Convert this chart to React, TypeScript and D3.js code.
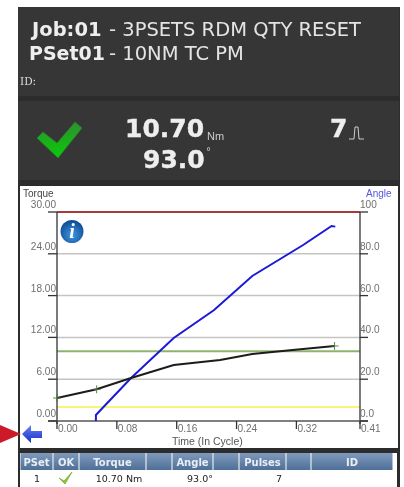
import React from "react";
import * as d3 from "d3";

const torqueTicks = [0, 6, 12, 18, 24, 30];
const angleTickLabels = ["0.0", "20.0", "40.0", "60.0", "80.0", "100"];
const angleTicks = [0, 20, 40, 60, 80, 100];
const timeTicks = [0, 0.08, 0.16, 0.24, 0.32, 0.405];
const timeLabels = ["0.00", "0.08", "0.16", "0.24", "0.32", "0.41"];
const torqueT = [0, 0.053, 0.099, 0.156, 0.218, 0.261, 0.315, 0.371];
const torqueV = [3.3, 4.55, 6.17, 8.04, 8.76, 9.62, 10.19, 10.77];
const angleT = [0.052, 0.052, 0.099, 0.156, 0.21, 0.261, 0.329, 0.367, 0.372];
const angleV = [0, 2.9, 20.6, 39.7, 53.1, 69.4, 84.2, 93.3, 93.0];
const markerT = [0, 0.053, 0.371];
const markerV = [3.3, 4.55, 10.77];
const limitHigh = 30;
const limitTarget = 10;
const limitLow = 2;
const tableHead = ["PSet", "OK", "Torque", "", "Angle", "", "Pulses", "", "ID"];
const tableCuts = [20, 53, 79, 146, 172, 213, 239, 286, 311, 393];
const rowValues = ["1", "10.70 Nm", "93.0°", "7"];

const sans = "'DejaVu Sans', Verdana, sans-serif";
const arial = "'Liberation Sans', Arial, sans-serif";

// narrow tick text: width follows the digits and the point in the string
const tickWidth = (s: string) => s.replace(".", "").length * 5.6 + (s.includes(".") ? 2.8 : 0);

export default function App() {
  const x = d3.scaleLinear().domain([0, 0.405]).range([57, 360]);
  const yT = d3.scaleLinear().domain([0, 30]).range([421, 212]);
  const yA = d3.scaleLinear().domain([0, 100]).range([421, 212]);
  const torquePath = d3.line<number>().x((t) => x(t)).y((_, i) => yT(torqueV[i]))(torqueT)!;
  const anglePath = d3.line<number>().x((t) => x(t)).y((_, i) => yA(angleV[i]))(angleT)!;
  const grey = "#6f6f6f";
  return (
    <svg width={404} height={487} style={{ position: "absolute", left: 0, top: 0, filter: "blur(0.4px)" }}>
      <defs>
        <linearGradient id="chk" x1="0" y1="0" x2="0" y2="1">
          <stop offset="0" stopColor="#2f8f2f" />
          <stop offset="1" stopColor="#08cc08" />
        </linearGradient>
        <radialGradient id="inf" cx="0.5" cy="0.65" r="0.6">
          <stop offset="0" stopColor="#3f96e0" />
          <stop offset="1" stopColor="#0f4f97" />
        </radialGradient>
        <linearGradient id="hdr" x1="0" y1="0" x2="0" y2="1">
          <stop offset="0" stopColor="#7f9abc" />
          <stop offset="1" stopColor="#4f6f98" />
        </linearGradient>
        <linearGradient id="arr" x1="0" y1="0" x2="0" y2="1">
          <stop offset="0" stopColor="#6f80f0" />
          <stop offset="1" stopColor="#1030c8" />
        </linearGradient>
      </defs>
      <rect width={404} height={487} fill="#fff" />
      <rect x={18} y={7} width={382} height={480} fill="#2c2c2c" />
      <rect x={18} y={7} width={381} height={89} fill="#363636" />
      <rect x={18} y={101} width={381} height={79} fill="#363636" />
      <text x={32} y={36} fontFamily={sans} fontSize={19.5} fontWeight="bold" fill="#eee">Job:01</text>
      <text x={109} y={36} fontFamily={sans} fontSize={19.5} fill="#e4e4e4">- 3PSETS RDM QTY RESET</text>
      <text x={29} y={59.5} fontFamily={sans} fontSize={19} fontWeight="bold" fill="#eee">PSet01</text>
      <text x={109} y={59.5} fontFamily={sans} fontSize={19.5} fill="#e4e4e4">- 10NM TC PM</text>
      <text x={20} y={85} fontFamily="'DejaVu Serif', serif" fontSize={10.5} fill="#ddd">ID:</text>

      <path d="M37,138 L43,132 L57,143 L75,122 L82,128 L58,158 Z" fill="url(#chk)" stroke="#2d7a2d" strokeWidth={0.7} />
      <text x={125} y={137} fontFamily={sans} fontSize={25} fontWeight="bold" stroke="#eee" strokeWidth={0.4} fill="#eee">10.70</text>
      <text x={207} y={140} fontFamily={arial} fontSize={11} fill="#ccc">Nm</text>
      <text x={143} y={168} fontFamily={sans} fontSize={25} fontWeight="bold" stroke="#eee" strokeWidth={0.4} fill="#eee">93.0</text>
      <text x={206} y={155} fontFamily={sans} fontSize={10} fill="#ccc">°</text>
      <text x={330} y={137} fontFamily={sans} fontSize={25} fontWeight="bold" stroke="#eee" strokeWidth={0.4} fill="#eee">7</text>
      <path d="M349,139 H354 L355,127 H358 L359,139 H364" fill="none" stroke="#ddd" strokeWidth={0.9} />

      <rect x={20} y={186} width={378} height={262} fill="#fff" />
      {[24, 18, 12, 6].map((v) => (
        <line key={v} x1={57} x2={360} y1={yT(v)} y2={yT(v)} stroke="#c4c4c4" strokeWidth={1.5} />
      ))}
      <line x1={57} x2={360} y1={yT(limitHigh)} y2={yT(limitHigh)} stroke="#a83a3a" strokeWidth={2} />
      <line x1={57} x2={360} y1={yT(limitTarget)} y2={yT(limitTarget)} stroke="#8fb36f" strokeWidth={2} />
      <line x1={57} x2={360} y1={yT(limitLow)} y2={yT(limitLow)} stroke="#f8f47a" strokeWidth={2} />
      <line x1={57} x2={57} y1={212} y2={424} stroke="#333" strokeWidth={1.3} />
      <line x1={360} x2={360} y1={212} y2={424} stroke="#333" strokeWidth={1.3} />
      <line x1={48} x2={368} y1={421} y2={421} stroke="#555" strokeWidth={1.3} />
      {torqueTicks.map((v) => (
        <g key={v}>
          <line x1={48} x2={57} y1={yT(v)} y2={yT(v)} stroke="#333" strokeWidth={1.3} />
          <text x={56} y={yT(v) - 4} textAnchor="end" fontFamily={arial} fontSize={11.5} fill={grey}
            textLength={tickWidth(v.toFixed(2))} lengthAdjust="spacingAndGlyphs">{v.toFixed(2)}</text>
        </g>
      ))}
      {angleTicks.map((v, i) => (
        <g key={v}>
          <line x1={360} x2={368} y1={yA(v)} y2={yA(v)} stroke="#333" strokeWidth={1.3} />
          <text x={360} y={yA(v) - 4} fontFamily={arial} fontSize={11.5} fill={grey}
            textLength={tickWidth(angleTickLabels[i])} lengthAdjust="spacingAndGlyphs">{angleTickLabels[i]}</text>
        </g>
      ))}
      {timeTicks.map((v, i) => (
        <g key={v}>
          <line x1={x(v)} x2={x(v)} y1={421} y2={429} stroke="#333" strokeWidth={1.3} />
          <text x={x(v) + 1} y={432} fontFamily={arial} fontSize={11.5} fill={grey}
            textLength={tickWidth(timeLabels[i])} lengthAdjust="spacingAndGlyphs">{timeLabels[i]}</text>
        </g>
      ))}
      <text x={23} y={197} fontFamily={arial} fontSize={10} fill="#444">Torque</text>
      <text x={366} y={197} fontFamily={arial} fontSize={10} fill="#5555dd">Angle</text>
      <text x={172} y={445} fontFamily={arial} fontSize={10.5} fill="#555">Time (In Cycle)</text>

      <path d={anglePath} fill="none" stroke="#1a1ad8" strokeWidth={2} />
      <path d={torquePath} fill="none" stroke="#1c1c1c" strokeWidth={2} />
      {markerT.map((t, i) => (
        <path key={t} d={`M${x(t) - 4},${yT(markerV[i])} h8 M${x(t)},${yT(markerV[i]) - 4} v8`} stroke="#4a7a3a" strokeWidth={0.9} />
      ))}

      <circle cx={72} cy={231.5} r={11.5} fill="url(#inf)" />
      <text x={72} y={238} textAnchor="middle" fontFamily="'Liberation Serif', serif" fontStyle="italic" fontWeight="bold" fontSize={20} fill="#fff">i</text>

      <path d="M0,425 L21,434 L0,443 Z" fill="#cc1a28" />
      <path d="M22,434 L31,425 V431 H42 V438 H31 V443 Z" fill="url(#arr)" />

      <rect x={20} y={453} width={377} height={34} fill="#fff" />
      {tableHead.map((h, i) => (
        <g key={i}>
          <rect x={tableCuts[i] + 0.5} y={453} width={tableCuts[i + 1] - tableCuts[i] - 1} height={17} fill="url(#hdr)" />
          <text x={(tableCuts[i] + tableCuts[i + 1]) / 2} y={465.5} textAnchor="middle" fontFamily={sans} fontWeight="bold" fontSize={10} fill="#e8eef5">{h}</text>
        </g>
      ))}
      <text x={37} y={482} textAnchor="middle" fontFamily={sans} fontSize={9.5} fill="#222">{rowValues[0]}</text>
      <path d="M59,478 L64,481 L72,472 L65,484 Z" fill="#8fc03f" stroke="#7fb030" strokeWidth={0.8} />
      <text x={119} y={482} textAnchor="middle" fontFamily={sans} fontSize={9.5} fill="#222">{rowValues[1]}</text>
      <text x={200} y={482} textAnchor="middle" fontFamily={sans} fontSize={9.5} fill="#222">{rowValues[2]}</text>
      <text x={279} y={482} textAnchor="middle" fontFamily={sans} fontSize={9.5} fill="#222">{rowValues[3]}</text>
    </svg>
  );
}
